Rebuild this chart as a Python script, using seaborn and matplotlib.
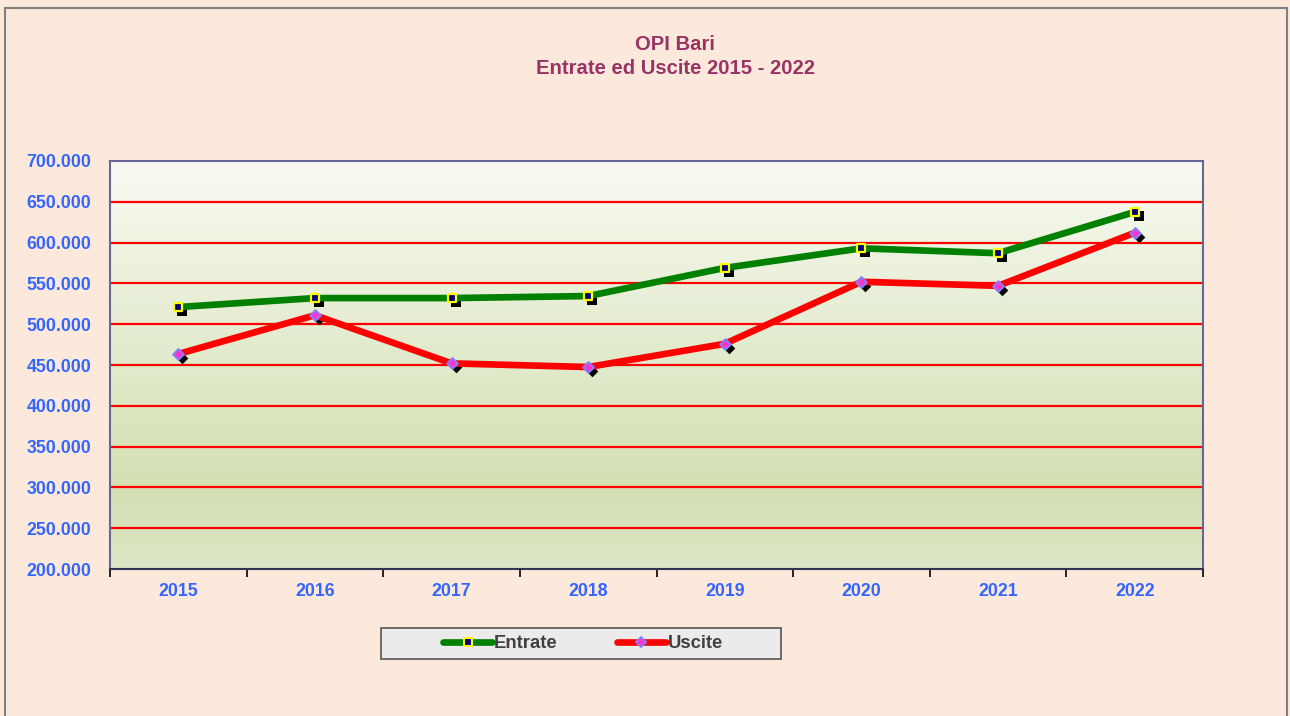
import numpy as np
import pandas as pd
import matplotlib
matplotlib.use("Agg")
import matplotlib.pyplot as plt
import matplotlib.transforms as mtransforms
from matplotlib.colors import LinearSegmentedColormap
from matplotlib.lines import Line2D
import seaborn as sns

years = ["2015", "2016", "2017", "2018", "2019", "2020", "2021", "2022"]
entrate = [521000, 532000, 532000, 534500, 569000, 593000, 587000, 637500]
uscite = [463500, 511000, 452000, 447500, 476000, 552000, 547000, 612000]
series_names = ["Entrate", "Uscite"]
y_ticks = [200000, 250000, 300000, 350000, 400000, 450000, 500000, 550000, 600000, 650000, 700000]

sns.set_theme(style="white")
plt.rcParams["font.family"] = ["Liberation Sans", "DejaVu Sans"]

df = pd.DataFrame({
    "pos": list(range(len(years))) * 2,
    "value": entrate + uscite,
    "serie": [series_names[0]] * len(years) + [series_names[1]] * len(years),
})

bg = "#fde9dc"
fig = plt.figure(figsize=(12.9, 7.16), dpi=100, facecolor=bg)
ax = fig.add_axes([110 / 1290, 1 - 569 / 716, (1203 - 110) / 1290, (569 - 161) / 716])

# outer border of chart area
fig.patches.append(plt.Rectangle((5 / 1290, -0.05), (1287 - 5) / 1290, (716 - 8) / 716 + 0.05,
                                 transform=fig.transFigure, fill=False, edgecolor="#808080",
                                 linewidth=1.5, zorder=0))

# gradient background of plot area
cmap = LinearSegmentedColormap.from_list(
    "bg", [(0.0, "#dde6c6"), (0.2, "#d3e0b3"), (1.0, "#f8faf2")])
grad = np.linspace(0, 1, 256).reshape(-1, 1)
ax.imshow(grad, extent=[-0.5, 7.5, 200000, 700000], origin="lower", aspect="auto",
          cmap=cmap, zorder=0)

# grid lines
for v in y_ticks[1:-1]:
    ax.axhline(v, color="#ff0000", linewidth=1.6, zorder=1)

palette = {"Entrate": "#008000", "Uscite": "#ff0000"}
sns.lineplot(data=df, x="pos", y="value", hue="serie", palette=palette,
             linewidth=4.8, legend=False, ax=ax, zorder=3, solid_capstyle="round")

# marker shadows
offset = mtransforms.ScaledTranslation(4 / 100, -4 / 100, fig.dpi_scale_trans)
sns.scatterplot(x=list(range(len(years))), y=entrate, marker="s", s=45, color="black",
                linewidth=0, ax=ax, zorder=2.5, transform=ax.transData + offset, legend=False)
sns.scatterplot(x=list(range(len(years))), y=uscite, marker="D", s=35, color="black",
                linewidth=0, ax=ax, zorder=2.5, transform=ax.transData + offset, legend=False)

# markers
sns.scatterplot(x=list(range(len(years))), y=entrate, marker="s", s=40, color="#000080",
                edgecolor="#ffff00", linewidth=1.6, ax=ax, zorder=4, legend=False)
sns.scatterplot(x=list(range(len(years))), y=uscite, marker="D", s=30, color="#ff33cc",
                edgecolor="#8080ff", linewidth=1.4, ax=ax, zorder=4, legend=False)

ax.set_xlim(-0.5, 7.5)
ax.set_ylim(200000, 700000)
ax.set_xticks(range(len(years)))
ax.set_xticklabels(years)
ax.set_xticks(np.arange(-0.5, 8, 1), minor=True)
ax.set_yticks(y_ticks)
ax.set_yticklabels([f"{v:,}".replace(",", ".") for v in y_ticks])
ax.tick_params(axis="x", which="major", length=0, pad=10, labelsize=12.8, labelcolor="#3366ff")
ax.tick_params(axis="x", which="minor", length=6, width=1.2, color="black", direction="out", bottom=True)
ax.tick_params(axis="y", length=0, pad=13.5, labelsize=12.8, labelcolor="#3366ff")
for lab in ax.get_xticklabels() + ax.get_yticklabels():
    lab.set_fontweight("bold")
ax.set_xlabel("")
ax.set_ylabel("")
for sp in ax.spines.values():
    sp.set_color("#666699")
    sp.set_linewidth(1.5)
    sp.set_visible(True)
ax.spines["bottom"].set_color("#333355")

fig.text(675 / 1290, 1 - 45 / 716, "OPI Bari", ha="center", va="center",
         fontsize=14.6, fontweight="bold", color="#993366")
fig.text(675 / 1290, 1 - 69 / 716, "Entrate ed Uscite 2015 - 2022", ha="center", va="center",
         fontsize=14.6, fontweight="bold", color="#993366")

# legend box
fig.patches.append(plt.Rectangle((381 / 1290, 1 - 659 / 716), 400 / 1290, 31 / 716,
                                 transform=fig.transFigure, facecolor="#ebebeb",
                                 edgecolor="#555555", linewidth=1.2, zorder=1))
handles = [
    Line2D([], [], color="#008000", linewidth=4.8, marker="s", markersize=6,
           markerfacecolor="#000080", markeredgecolor="#ffff00", markeredgewidth=1.5,
           solid_capstyle="round"),
    Line2D([], [], color="#ff0000", linewidth=4.8, marker="D", markersize=5,
           markerfacecolor="#ff33cc", markeredgecolor="#8080ff", markeredgewidth=1.3,
           solid_capstyle="round"),
]
leg = fig.legend(handles, series_names, loc="center", ncol=2,
                 bbox_to_anchor=(583 / 1290, 1 - 643.5 / 716), frameon=False,
                 handlelength=2.65, handletextpad=0.1, columnspacing=3.2, borderpad=0.3,
                 prop={"size": 13.3, "weight": "bold"})
leg.set_zorder(5)
for t in leg.get_texts():
    t.set_color("#404040")

fig.savefig("out.png", dpi=100, facecolor=bg)
